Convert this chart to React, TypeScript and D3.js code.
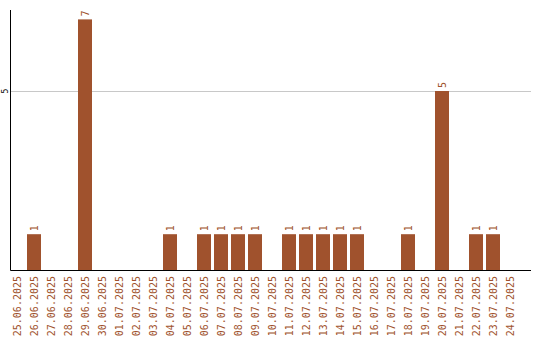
import React from "react";
import * as d3 from "d3";

const dates = [
  "25.06.2025", "26.06.2025", "27.06.2025", "28.06.2025", "29.06.2025", "30.06.2025",
  "01.07.2025", "02.07.2025", "03.07.2025", "04.07.2025", "05.07.2025", "06.07.2025",
  "07.07.2025", "08.07.2025", "09.07.2025", "10.07.2025", "11.07.2025", "12.07.2025",
  "13.07.2025", "14.07.2025", "15.07.2025", "16.07.2025", "17.07.2025", "18.07.2025",
  "19.07.2025", "20.07.2025", "21.07.2025", "22.07.2025", "23.07.2025", "24.07.2025",
];
const counts = [
  0, 1, 0, 0, 7, 0,
  0, 0, 0, 1, 0, 1,
  1, 1, 1, 0, 1, 1,
  1, 1, 1, 0, 0, 1,
  0, 5, 0, 1, 1, 0,
];
const yTicks = [5];

const W = 540;
const H = 340;
const BAR = "#a0522d";
const MONO = "'DejaVu Sans Mono', monospace";

export default function App() {
  const x = d3
    .scaleBand<string>()
    .domain(dates)
    .range([8.5, 518.5])
    .paddingInner(3 / 17)
    .paddingOuter(1.5 / 17);
  const y = d3.scaleLinear().domain([0, 5]).range([270, 91]);
  const axisX = 10.5;
  const baseY = 270.5;

  return (
    <svg
      width={W}
      height={H}
      style={{ position: "absolute", left: 0, top: 0, background: "#fff" }}
    >
      {yTicks.map((t) => (
        <g key={t}>
          <line x1={axisX} x2={531} y1={Math.round(y(t)) + 0.5} y2={Math.round(y(t)) + 0.5} stroke="#c8c8c8" />
          <text
            transform={`translate(8,${y(t)}) rotate(-90)`}
            textAnchor="middle"
            fontFamily={MONO}
            fontSize={8}
            fill="#000"
          >
            {t}
          </text>
        </g>
      ))}
      {dates.map((d, i) =>
        counts[i] > 0 ? (
          <g key={d}>
            <rect
              x={x(d)!}
              y={y(counts[i])}
              width={x.bandwidth()}
              height={y(0) - y(counts[i])}
              fill={BAR}
            />
            <text
              transform={`translate(${x(d)! + x.bandwidth() / 2 + 3.5},${y(counts[i]) - 3}) rotate(-90)`}
              textAnchor="start"
              fontFamily={MONO}
              fontSize={10}
              fill={BAR}
            >
              {counts[i]}
            </text>
          </g>
        ) : null
      )}
      {dates.map((d) => (
        <text
          key={"l" + d}
          transform={`translate(${x(d)! + x.bandwidth() / 2 + 3.5},${276}) rotate(-90)`}
          textAnchor="end"
          fontFamily={MONO}
          fontSize={10}
          fill={BAR}
        >
          {d}
        </text>
      ))}
      <line x1={axisX} x2={axisX} y1={10} y2={baseY} stroke="#000" />
      <line x1={axisX} x2={531} y1={baseY} y2={baseY} stroke="#000" />
    </svg>
  );
}
